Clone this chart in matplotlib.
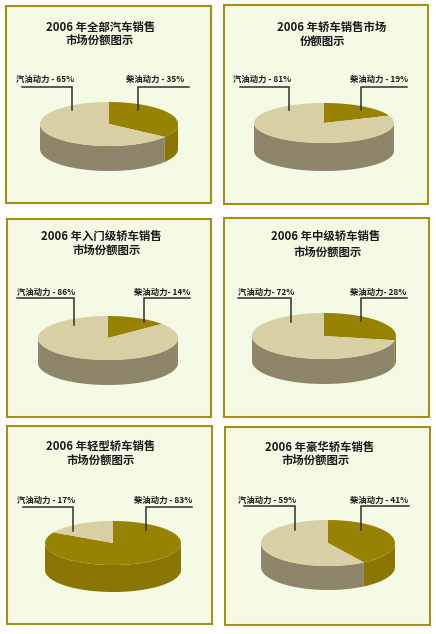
import numpy as np
from matplotlib import pyplot as plt
from matplotlib.colors import to_rgb
from matplotlib.patches import Polygon, Rectangle

plt.rcParams['font.family'] = ['Noto Sans CJK SC', 'DejaVu Sans']

# data
title_line1 = ['2006 年全部汽车销售', '2006 年轿车销售市场', '2006 年入门级轿车销售',
               '2006 年中级轿车销售', '2006 年轻型轿车销售', '2006 年豪华轿车销售']
title_line2 = ['市场份额图示', '份额图示', '市场份额图示',
               '市场份额图示', '市场份额图示', '市场份额图示']
diesel_share = [35, 19, 14, 28, 83, 41]
gas_labels = ['汽油动力 - 65%', '汽油动力 - 81%', '汽油动力 - 86%',
              '汽油动力- 72%', '汽油动力 - 17%', '汽油动力 - 59%']
diesel_labels = ['柴油动力 - 35%', '柴油动力 - 19%', '柴油动力- 14%',
                 '柴油动力- 28%', '柴油动力 - 83%', '柴油动力 - 41%']

# layout in image pixels
frames = [(6, 6, 211, 203), (224, 5, 428, 204), (7, 219, 211, 417),
          (224, 218, 429, 417), (7, 426, 212, 624), (225, 427, 430, 625)]
pies = [(109, 124, 69, 22, 25), (324, 123, 70, 20, 28), (108, 338, 70, 22, 25),
        (324, 336, 72, 23, 25), (113, 543, 68, 22, 27), (328, 543, 67, 23, 24)]
title_pos = [(101, 27, 100, 40), (332, 27, 323, 41), (101, 236, 107, 250),
             (326, 236, 328, 252), (101, 446, 101, 460), (320, 447, 316, 460)]
gas_text = [(45, 79), (262, 79), (46, 292), (266, 292), (46, 500), (267, 500)]
diesel_text = [(155, 79), (379, 79), (162, 292), (378, 292), (163, 500), (379, 500)]
gas_leader = [(22, 72, 87, 110), (240, 289, 87, 110), (17, 74, 298, 325),
              (238, 291, 298, 322), (23, 73, 507, 531), (244, 295, 506, 530)]
diesel_leader = [(189, 138, 87, 110), (407, 361, 87, 110), (190, 144, 298, 322),
                 (407, 361, 298, 321), (192, 146, 507, 530), (409, 361, 506, 530)]

BORDER = '#A3920F'
PANEL = ('#F2F9E1', '#F5FBE8')
GAS_TOP = ('#D6CD9E', '#DAD2A8')
GAS_SIDE = ('#8A8165', '#928A70')
DIESEL_TOP = ('#968000', '#9A8404')
DIESEL_SIDE = ('#857200', '#8E7A00')
LINE = '#2F2F2F'


def ellipse_pts(cx, cy, rx, ry, start, end):
    t = np.radians(np.linspace(start, end, 120))
    return np.column_stack([cx + rx * np.sin(t), cy - ry * np.cos(t)])


def dithered(ax, patch, colors, z):
    # the original is a dithered gif, so fill with a one pixel checker
    ax.add_patch(patch)
    patch.set_zorder(z)
    patch.set_facecolor('none')
    rows, cols = np.indices((634, 436))
    check = (rows + cols) % 2
    img = np.array([to_rgb(colors[0]), to_rgb(colors[1])])[check]
    im = ax.imshow(img, extent=(0, 436, 634, 0), interpolation='nearest',
                   aspect='auto', zorder=z)
    im.set_clip_path(patch)


def draw_side(ax, cx, cy, rx, ry, depth, start, end, colors):
    # only the front half of the rim shows
    start = max(start, 90)
    end = min(end, 270)
    if end <= start:
        return
    top = ellipse_pts(cx, cy, rx, ry, start, end)
    bottom = top[::-1] + [0, depth]
    dithered(ax, Polygon(np.vstack([top, bottom]), closed=True, ec='none'), colors, 2)


def draw_top(ax, cx, cy, rx, ry, start, end, colors):
    rim = ellipse_pts(cx, cy, rx, ry, start, end)
    dithered(ax, Polygon(np.vstack([[cx, cy], rim]), closed=True, ec='none'), colors, 3)


fig = plt.figure(figsize=(4.36, 6.34), dpi=100, facecolor='white')
ax = fig.add_axes([0, 0, 1, 1])

for i in range(6):
    x0, y0, x1, y1 = frames[i]
    dithered(ax, Rectangle((x0, y0), x1 - x0, y1 - y0, ec='none'), PANEL, 1)
    ax.add_patch(Rectangle((x0, y0), x1 - x0, y1 - y0, fc='none', ec=BORDER, lw=1.5, zorder=4))

    cx, cy, rx, ry, depth = pies[i]
    split = diesel_share[i] * 3.6
    draw_side(ax, cx, cy, rx, ry, depth, 0, split, DIESEL_SIDE)
    draw_side(ax, cx, cy, rx, ry, depth, split, 360, GAS_SIDE)
    draw_top(ax, cx, cy, rx, ry, 0, split, DIESEL_TOP)
    draw_top(ax, cx, cy, rx, ry, split, 360, GAS_TOP)

    tx1, ty1, tx2, ty2 = title_pos[i]
    ax.text(tx1, ty1, title_line1[i], ha='center', va='center', fontsize=8.2,
            fontweight='bold', color='#1A1A1A', zorder=5)
    ax.text(tx2, ty2, title_line2[i], ha='center', va='center', fontsize=8.2,
            fontweight='bold', color='#1A1A1A', zorder=5)

    ax.text(*gas_text[i], gas_labels[i], ha='center', va='center', fontsize=6,
            fontweight='bold', color='#1A1A1A', zorder=5)
    ax.text(*diesel_text[i], diesel_labels[i], ha='center', va='center', fontsize=6,
            fontweight='bold', color='#1A1A1A', zorder=5)

    for lx0, lx1, ly0, ly1 in (gas_leader[i], diesel_leader[i]):
        ax.plot([lx0, lx1, lx1], [ly0, ly0, ly1], color=LINE, lw=1.1,
                solid_joinstyle='miter', zorder=4)

ax.set_xlim(0, 436)
ax.set_ylim(634, 0)
ax.axis('off')

fig.savefig('out.png', dpi=100)
